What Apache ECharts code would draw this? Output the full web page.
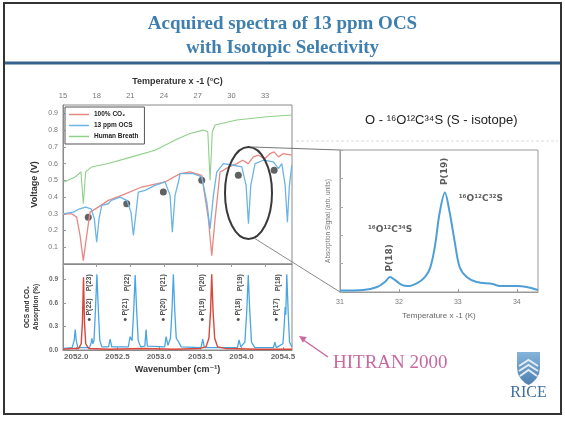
<!DOCTYPE html>
<html><head><meta charset="utf-8">
<script src="https://cdn.jsdelivr.net/npm/echarts@6/dist/echarts.min.js"></script>
<style>html,body{margin:0;padding:0;background:#fff}#c{width:565px;height:423px}</style>
</head><body><div id="c"></div>
<script>
// ---- Top panel: voltage vs temperature x -1 (°C) ----
const co2Top = [[15.0,0.30],[15.78,0.30],[16.22,0.28],[16.52,0.17],[16.81,0.02],[17.11,0.17],[17.41,0.31],[18.15,0.34],[19.04,0.38],[20.23,0.41],[22.01,0.46],[24.09,0.49],[25.43,0.54],[26.32,0.55],[27.36,0.53],[27.95,0.27],[28.25,0.05],[28.55,0.27],[28.99,0.55],[29.8,0.58],[30.48,0.60],[31.0,0.62],[31.5,0.60],[31.96,0.64],[32.4,0.65],[33.0,0.63],[33.45,0.66],[33.8,0.67],[34.2,0.64],[34.63,0.66],[35.38,0.65]];
const ocsTop = [[15.0,0.30],[15.9,0.31],[16.5,0.33],[17.0,0.34],[17.5,0.33],[17.79,0.27],[18.0,0.13],[18.21,0.27],[18.45,0.35],[19.04,0.36],[19.3,0.38],[20.08,0.40],[20.68,0.38],[21.06,0.31],[21.27,0.17],[21.51,0.31],[21.71,0.43],[22.31,0.44],[23.2,0.47],[24.09,0.49],[24.54,0.41],[24.74,0.19],[24.98,0.41],[25.28,0.49],[25.43,0.54],[26.61,0.54],[27.36,0.52],[27.81,0.37],[28.1,0.21],[28.4,0.41],[28.7,0.55],[29.29,0.60],[30.18,0.59],[30.93,0.58],[31.31,0.47],[31.52,0.24],[31.73,0.47],[32.11,0.60],[32.85,0.62],[33.74,0.61],[34.19,0.57],[34.49,0.60],[34.79,0.47],[34.99,0.25],[35.17,0.47],[35.38,0.59]];
const breathTop = [[15.12,0.49],[16.07,0.52],[16.6,0.55],[16.81,0.36],[17.02,0.55],[17.56,0.58],[19.04,0.60],[21.12,0.64],[23.2,0.68],[25.28,0.75],[26.32,0.78],[27.48,0.80],[27.9,0.79],[28.1,0.50],[28.3,0.79],[28.55,0.83],[30.48,0.86],[33.16,0.88],[35.38,0.89]];
const dotsTop = [[17.25,0.28],[20.68,0.36],[23.94,0.43],[27.36,0.50],[30.62,0.53],[33.81,0.56]];

// ---- Bottom panel: HITRAN absorption vs wavenumber ----
const co2Abs = [[2051.84,0.01],[2051.95,0.02],[2052.03,0.02],[2052.06,0.08],[2052.075,0.35],[2052.088,0.93],[2052.10,0.35],[2052.115,0.08],[2052.15,0.02],[2052.4,0.01],[2052.8,0.02],[2053.2,0.01],[2053.5,0.02],[2053.57,0.04],[2053.605,0.15],[2053.625,0.5],[2053.639,0.97],[2053.655,0.5],[2053.675,0.15],[2053.71,0.04],[2053.8,0.02],[2054.2,0.01],[2054.61,0.01]];
const ocsAbs = [[2051.84,0.02],[2051.95,0.03],[2051.975,0.12],[2051.988,0.26],[2052.0,0.12],[2052.02,0.03],[2052.16,0.03],[2052.18,0.09],[2052.19,0.15],[2052.20,0.08],[2052.215,0.12],[2052.232,0.5],[2052.25,0.97],[2052.268,0.5],[2052.285,0.12],[2052.31,0.04],[2052.39,0.04],[2052.41,0.14],[2052.43,0.04],[2052.63,0.04],[2052.652,0.17],[2052.675,0.12],[2052.695,0.5],[2052.713,0.96],[2052.731,0.5],[2052.75,0.12],[2052.78,0.04],[2052.83,0.05],[2052.845,0.26],[2052.86,0.05],[2053.07,0.04],[2053.087,0.17],[2053.11,0.06],[2053.14,0.15],[2053.158,0.5],[2053.175,0.97],[2053.192,0.5],[2053.21,0.15],[2053.24,0.1],[2053.27,0.04],[2053.51,0.03],[2053.53,0.14],[2053.55,0.03],[2053.95,0.03],[2053.969,0.13],[2053.99,0.04],[2054.04,0.10],[2054.063,0.5],[2054.081,0.96],[2054.099,0.5],[2054.12,0.1],[2054.16,0.03],[2054.385,0.03],[2054.403,0.1],[2054.42,0.03],[2054.50,0.08],[2054.515,0.3],[2054.527,0.55],[2054.535,0.45],[2054.547,0.97],[2054.565,0.45],[2054.58,0.1],[2054.61,0.04]];
const lineNamesUpper = ['P(23)','P(22)','P(21)','P(20)','P(19)','P(18)'];
const lineXUpper = [2052.161,2052.612,2053.054,2053.518,2053.981,2054.443];
const lineNamesLower = ['● P(22)','● P(21)','● P(20)','● P(19)','● P(18)','● P(17)'];
const lineXLower = [2052.161,2052.592,2053.054,2053.518,2053.96,2054.415];
const upperLabelY = 0.86, lowerLabelY = 0.51;

// ---- Inset: absorption signal vs temperature x -1 (K) ----
const insetSignal = [[31.0,0.01],[31.39,0.014],[31.63,0.035],[31.76,0.07],[31.85,0.105],[31.93,0.085],[32.05,0.05],[32.15,0.042],[32.31,0.063],[32.44,0.105],[32.53,0.17],[32.61,0.32],[32.69,0.556],[32.78,0.70],[32.86,0.563],[32.95,0.345],[33.03,0.176],[33.15,0.106],[33.32,0.07],[33.59,0.056],[33.71,0.042],[34.0,0.042],[34.17,0.035],[34.36,0.014]];
const insetLabels = [{value:[32.78,0.85],name:'P(19)',rot:90},{value:[33.39,0.66],name:'¹⁶O¹²C³²S',rot:0},{value:[31.85,0.44],name:'¹⁶O¹²C³⁴S',rot:0},{value:[31.85,0.24],name:'P(18)',rot:90}];

const SANS = 'Liberation Sans, DejaVu Sans, Arial, sans-serif';
const SERIF = 'Liberation Serif, DejaVu Serif, serif';
const f1 = v => v.toFixed(1);

const chart = echarts.init(document.getElementById('c'), null, {renderer:'canvas'});
const option = {
  animation: false,
  backgroundColor: '#ffffff',
  title: {
    text: 'Acquired spectra of 13 ppm OCS\nwith Isotopic Selectivity',
    left: 'center', top: 7,
    textStyle: {fontFamily: SERIF, fontWeight: 'bold', fontSize: 19, color: '#3f7fb0', lineHeight: 24}
  },
  legend: {
    data: ['100% CO₂','13 ppm OCS','Human Breath'],
    orient: 'vertical', left: 65, top: 107,
    icon: 'rect', itemWidth: 20, itemHeight: 1.5, itemGap: 4,
    padding: [4,6,4,4],
    backgroundColor: '#fff', borderColor: '#555', borderWidth: 1,
    textStyle: {fontFamily: SANS, fontSize: 6.5, fontWeight: 'bold', color: '#222'}
  },
  grid: [
    {left: 63, top: 105, width: 229, height: 159, show: true, borderColor: '#8a8a8a', borderWidth: 1},
    {left: 63, top: 264, width: 229, height: 86, show: true, borderColor: '#8a8a8a', borderWidth: 1},
    {left: 340, top: 150, width: 198, height: 142, show: true, borderColor: '#9a9a9a', borderWidth: 1}
  ],
  xAxis: [
    {gridIndex: 0, type: 'value', position: 'top', min: 15, max: 35.4, interval: 3,
     name: 'Temperature x -1 (°C)', nameLocation: 'middle', nameGap: 19,
     nameTextStyle: {fontFamily: SANS, fontWeight: 'bold', fontSize: 9, color: '#333'},
     axisLine: {lineStyle: {color: '#8a8a8a'}}, axisTick: {inside: true, length: 3, lineStyle: {color: '#999'}},
     axisLabel: {margin: 5, fontFamily: SANS, fontSize: 7.5, color: '#777', showMaxLabel: false},
     splitLine: {show: false}},
    {gridIndex: 1, type: 'value', position: 'bottom', min: 2051.84, max: 2054.61, splitNumber: 6, minInterval: 0.5, maxInterval: 0.5,
     name: 'Wavenumber (cm⁻¹)', nameLocation: 'middle', nameGap: 15,
     nameTextStyle: {fontFamily: SANS, fontWeight: 'bold', fontSize: 9, color: '#333'},
     axisLine: {lineStyle: {color: '#8a8a8a'}}, axisTick: {inside: true, length: 3, lineStyle: {color: '#999'}},
     axisLabel: {margin: 3, formatter: f1, fontFamily: SANS, fontWeight: 'bold', fontSize: 8, color: '#666', showMinLabel: false, showMaxLabel: false},
     splitLine: {show: false}},
    {gridIndex: 2, type: 'value', min: 31, max: 34.36, interval: 1,
     name: 'Temperature x -1 (K)', nameLocation: 'middle', nameGap: 20,
     nameTextStyle: {fontFamily: SANS, fontSize: 8, color: '#666'},
     axisLine: {lineStyle: {color: '#9a9a9a'}}, axisTick: {inside: true, length: 3, lineStyle: {color: '#999'}},
     axisLabel: {margin: 7, fontFamily: SANS, fontSize: 7, color: '#777', showMaxLabel: false},
     splitLine: {show: false}}
  ],
  yAxis: [
    {gridIndex: 0, type: 'value', min: 0, max: 0.95, interval: 0.1,
     name: 'Voltage (V)', nameLocation: 'middle', nameGap: 24, nameRotate: 90,
     nameTextStyle: {fontFamily: SANS, fontWeight: 'bold', fontSize: 9, color: '#333'},
     axisLine: {lineStyle: {color: '#8a8a8a'}}, axisTick: {inside: true, length: 3, lineStyle: {color: '#999'}},
     axisLabel: {margin: 5, formatter: f1, fontFamily: SANS, fontSize: 7, color: '#777', showMinLabel: false, showMaxLabel: false},
     splitLine: {show: false}},
    {gridIndex: 1, type: 'value', min: 0, max: 1.1, interval: 0.3,
     name: 'OCS and CO₂\nAbsorption (%)', nameLocation: 'middle', nameGap: 22, nameRotate: 90,
     nameTextStyle: {fontFamily: SANS, fontWeight: 'bold', fontSize: 6.5, color: '#333', lineHeight: 9},
     axisLine: {lineStyle: {color: '#8a8a8a'}}, axisTick: {inside: true, length: 3, lineStyle: {color: '#999'}},
     axisLabel: {margin: 5, formatter: f1, fontFamily: SANS, fontWeight: 'bold', fontSize: 6.5, color: '#666', showMaxLabel: false},
     splitLine: {show: false}},
    {gridIndex: 2, type: 'value', min: 0, max: 1, interval: 0.2,
     name: 'Absorption Signal (arb. units)', nameLocation: 'middle', nameGap: 8, nameRotate: 90,
     nameTextStyle: {fontFamily: SANS, fontSize: 6.5, color: '#777'},
     axisLine: {lineStyle: {color: '#9a9a9a'}}, axisTick: {inside: true, length: 3, lineStyle: {color: '#aaa'}},
     axisLabel: {show: false}, splitLine: {show: false}}
  ],
  series: [
    {name: 'Human Breath', type: 'line', xAxisIndex: 0, yAxisIndex: 0, data: breathTop, showSymbol: false, symbol: 'none',
     lineStyle: {color: '#8fd08a', width: 1.1}, itemStyle: {color: '#8fd08a'}},
    {name: '100% CO₂', type: 'line', xAxisIndex: 0, yAxisIndex: 0, data: co2Top, showSymbol: false, symbol: 'none',
     lineStyle: {color: '#e88882', width: 1.3}, itemStyle: {color: '#e88882'}},
    {name: '13 ppm OCS', type: 'line', xAxisIndex: 0, yAxisIndex: 0, data: ocsTop, showSymbol: false, symbol: 'none',
     lineStyle: {color: '#6db4e6', width: 1.3}, itemStyle: {color: '#6db4e6'}},
    {name: 'dots', type: 'scatter', xAxisIndex: 0, yAxisIndex: 0, data: dotsTop, symbolSize: 7,
     itemStyle: {color: '#3a3a3a'}},
    {name: 'OCS HITRAN', type: 'line', xAxisIndex: 1, yAxisIndex: 1, data: ocsAbs, showSymbol: false, symbol: 'none',
     lineStyle: {color: '#4aa6e2', width: 1.3}},
    {name: 'CO2 HITRAN', type: 'line', xAxisIndex: 1, yAxisIndex: 1, data: co2Abs, showSymbol: false, symbol: 'none',
     lineStyle: {color: '#d9473a', width: 1.4}},
    {name: 'upper labels', type: 'scatter', xAxisIndex: 1, yAxisIndex: 1, symbolSize: 1,
     itemStyle: {color: 'rgba(0,0,0,0)'},
     data: lineNamesUpper.map((n, i) => ({value: [lineXUpper[i], upperLabelY], name: n})),
     label: {show: true, position: 'inside', rotate: 90, formatter: '{b}', fontFamily: SANS, fontWeight: 'bold', fontSize: 7, color: '#222'}},
    {name: 'lower labels', type: 'scatter', xAxisIndex: 1, yAxisIndex: 1, symbolSize: 1,
     itemStyle: {color: 'rgba(0,0,0,0)'},
     data: lineNamesLower.map((n, i) => ({value: [lineXLower[i], lowerLabelY], name: n})),
     label: {show: true, position: 'inside', rotate: 90, formatter: '{b}', fontFamily: SANS, fontWeight: 'bold', fontSize: 7, color: '#222'}},
    {name: 'inset', type: 'line', xAxisIndex: 2, yAxisIndex: 2, data: insetSignal, smooth: 0.3, showSymbol: false, symbol: 'none',
     lineStyle: {color: '#4f9fd6', width: 2}},
    {name: 'inset labels', type: 'scatter', xAxisIndex: 2, yAxisIndex: 2, symbolSize: 1,
     itemStyle: {color: 'rgba(0,0,0,0)'},
     data: insetLabels.map(d => ({value: d.value, name: d.name, label: {rotate: d.rot}})),
     label: {show: true, position: 'inside', formatter: '{b}', fontFamily: 'DejaVu Sans, Liberation Sans, sans-serif', fontWeight: 'bold', fontSize: 9, color: '#333'}}
  ],
  graphic: [
    {type: 'rect', shape: {x: 4, y: 3, width: 557, height: 411}, style: {fill: 'none', stroke: '#333', lineWidth: 2}, z: 100},
    {type: 'line', shape: {x1: 5, y1: 63, x2: 560, y2: 63}, style: {stroke: '#35618c', lineWidth: 3}, z: 100},
    {type: 'line', shape: {x1: 296, y1: 141, x2: 558, y2: 141}, style: {stroke: '#dcdcdc', lineWidth: 1, lineDash: [3,2]}, z: 1},
    {type: 'ellipse', shape: {cx: 248.5, cy: 193, rx: 23.5, ry: 46}, style: {fill: 'none', stroke: '#3a3a3a', lineWidth: 2}, z: 100},
    {type: 'line', shape: {x1: 252, y1: 147, x2: 340, y2: 150}, style: {stroke: '#777', lineWidth: 1}, z: 100},
    {type: 'line', shape: {x1: 254, y1: 238, x2: 340, y2: 292}, style: {stroke: '#8a8a8a', lineWidth: 1}, z: 100},
    {type: 'text', x: 365, y: 120, style: {text: 'O - ¹⁶O¹²C³⁴S (S - isotope)', font: '13px ' + SANS, fill: '#222', align: 'left', verticalAlign: 'middle', textAlign: 'left', textVerticalAlign: 'middle'}, z: 100},
    {type: 'line', shape: {x1: 328, y1: 357, x2: 302, y2: 339}, style: {stroke: '#c76aa0', lineWidth: 1.5}, z: 100},
    {type: 'polygon', shape: {points: [[299,336],[306.7,337],[302.9,342.8]]}, style: {fill: '#c76aa0'}, z: 100},
    {type: 'text', x: 333, y: 363, style: {text: 'HITRAN 2000', font: '19px ' + SERIF, fill: '#c76aa0', align: 'left', verticalAlign: 'middle', textAlign: 'left', textVerticalAlign: 'middle'}, z: 100},
    {type: 'polygon', shape: {points: [[517,352],[540,352],[540,368],[539,374],[536,379],[532,383],[528.5,385],[525,383],[521,379],[518,374],[517,368]]},
     style: {fill: {type: 'linear', x: 0, y: 0, x2: 0, y2: 1, colorStops: [{offset: 0, color: '#86b3da'}, {offset: 1, color: '#4c80b2'}]}}, z: 100},
    {type: 'polyline', shape: {points: [[519,366],[528.5,360],[538,366]]}, style: {stroke: '#e3edf6', lineWidth: 2, fill: 'none'}, z: 101},
    {type: 'polyline', shape: {points: [[519,371],[528.5,365],[538,371]]}, style: {stroke: '#e3edf6', lineWidth: 2, fill: 'none'}, z: 101},
    {type: 'polyline', shape: {points: [[520,376],[528.5,370],[537,376]]}, style: {stroke: '#e3edf6', lineWidth: 2, fill: 'none'}, z: 101},
    {type: 'text', x: 528.5, y: 393, style: {text: 'RICE', font: '16px ' + SERIF, fill: '#3d6f9c', align: 'center', verticalAlign: 'middle', textAlign: 'center', textVerticalAlign: 'middle'}, z: 100}
  ]
};
chart.setOption(option);
</script></body></html>
